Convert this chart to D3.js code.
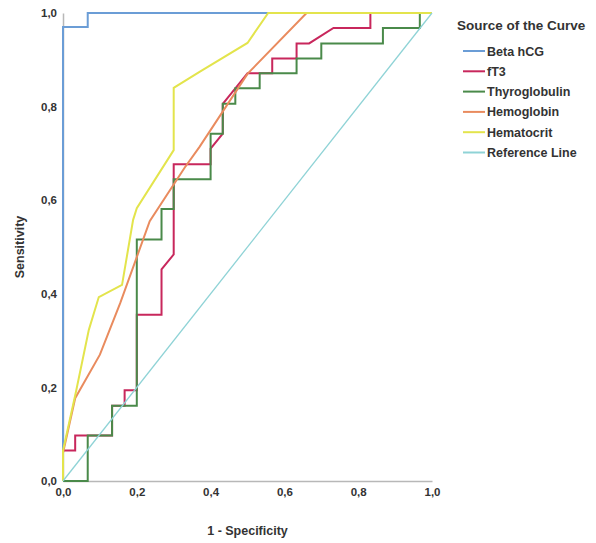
<!DOCTYPE html>
<html>
<head>
<meta charset="utf-8">
<script src="https://cdn.jsdelivr.net/npm/d3@7"></script>
<style>
  body { margin: 0; background: #fff; }
  svg text { font-family: "Liberation Sans", Arial, sans-serif; font-weight: bold; fill: #333; }
</style>
</head>
<body>
<svg id="chart"></svg>
<script>
// ROC data: [1 - specificity, sensitivity]
var betaHCG = [[0,0],[0,0.97],[0.067,0.97],[0.067,1],[1,1]];
var fT3 = [[0,0],[0,0.065],[0.033,0.065],[0.033,0.097],[0.133,0.097],[0.133,0.161],[0.167,0.161],[0.167,0.194],
  [0.2,0.194],[0.2,0.355],[0.267,0.355],[0.267,0.452],[0.3,0.484],[0.3,0.677],[0.4,0.677],[0.4,0.71],
  [0.433,0.742],[0.433,0.806],[0.467,0.839],[0.5,0.871],[0.567,0.871],[0.567,0.903],[0.633,0.903],
  [0.633,0.935],[0.667,0.935],[0.733,0.968],[0.833,0.968],[0.833,1],[1,1]];
var thyroglobulin = [[0,0],[0.067,0],[0.067,0.097],[0.133,0.097],[0.133,0.161],[0.2,0.161],[0.2,0.516],
  [0.267,0.516],[0.267,0.581],[0.3,0.581],[0.3,0.645],[0.4,0.645],[0.4,0.742],[0.433,0.742],[0.433,0.806],
  [0.467,0.806],[0.467,0.839],[0.533,0.839],[0.533,0.871],[0.633,0.871],[0.633,0.903],[0.7,0.903],
  [0.7,0.935],[0.867,0.935],[0.867,0.968],[0.967,0.968],[0.967,1],[1,1]];
var hemoglobin = [[0,0],[0,0.06],[0.033,0.177],[0.1,0.27],[0.155,0.38],[0.235,0.555],[0.33,0.67],
  [0.37,0.714],[0.5,0.87],[0.66,1],[1,1]];
var hematocrit = [[0,0],[0,0.065],[0.035,0.19],[0.07,0.323],[0.097,0.393],[0.16,0.419],[0.19,0.558],
  [0.2,0.583],[0.3,0.707],[0.3,0.84],[0.37,0.874],[0.5,0.936],[0.556,1],[1,1]];
var referenceLine = [[0,0],[1,1]];

var seriesNames = ["Beta hCG", "fT3", "Thyroglobulin", "Hemoglobin", "Hematocrit", "Reference Line"];
var seriesData = [betaHCG, fT3, thyroglobulin, hemoglobin, hematocrit, referenceLine];
var seriesColors = ["#6b9dd6", "#c8275c", "#4a8a4a", "#e98b5e", "#e3e44c", "#8fd3d6"];
var axisTicks = [0, 0.2, 0.4, 0.6, 0.8, 1.0];

var width = 596, height = 543;
var plot = {left: 63, top: 13, width: 369, height: 468};

var svg = d3.select("#chart")
  .attr("width", width)
  .attr("height", height);

var x = d3.scaleLinear().domain([0, 1]).range([plot.left, plot.left + plot.width]);
var y = d3.scaleLinear().domain([0, 1]).range([plot.top + plot.height, plot.top]);
var fmt = function(d) { return d3.format(".1f")(d).replace(".", ","); };

// axes, no tick marks
svg.append("g")
  .attr("transform", `translate(0, ${plot.top + plot.height})`)
  .call(d3.axisBottom(x).tickValues(axisTicks).tickFormat(fmt).tickSize(0).tickPadding(7));
svg.append("g")
  .attr("transform", `translate(${plot.left}, 0)`)
  .call(d3.axisLeft(y).tickValues(axisTicks).tickFormat(fmt).tickSize(0).tickPadding(6));

svg.selectAll(".domain").attr("stroke", "#b8b8b8").attr("stroke-width", 1.5);
svg.selectAll(".tick text").style("font-size", "11.5px").attr("fill", "#333");

// curves
var line = d3.line()
  .x(function(d) { return x(d[0]); })
  .y(function(d) { return y(d[1]); });

svg.append("g").selectAll("path")
  .data(seriesData)
  .enter().append("path")
    .attr("d", line)
    .attr("fill", "none")
    .attr("stroke", function(d, i) { return seriesColors[i]; })
    .attr("stroke-width", function(d, i) { return i === 5 ? 1.3 : 2; });

// axis titles
svg.append("text")
  .attr("x", x(0.5))
  .attr("y", 535)
  .attr("text-anchor", "middle")
  .style("font-size", "12.5px")
  .text("1 - Specificity");

svg.append("text")
  .attr("transform", `translate(24, ${y(0.5)}) rotate(-90)`)
  .attr("text-anchor", "middle")
  .style("font-size", "12.5px")
  .text("Sensitivity");

// legend
var legend = svg.append("g").attr("transform", "translate(457, 0)");
legend.append("text")
  .attr("x", 0).attr("y", 30)
  .style("font-size", "13.5px")
  .text("Source of the Curve");

var items = legend.selectAll(".item")
  .data(seriesNames)
  .enter().append("g")
    .attr("class", "item")
    .attr("transform", function(d, i) { return `translate(0, ${51 + i * 20.3})`; });

items.append("line")
  .attr("x1", 6).attr("x2", 28)
  .attr("stroke", function(d, i) { return seriesColors[i]; })
  .attr("stroke-width", 2);

items.append("text")
  .attr("x", 30).attr("y", 4.5)
  .style("font-size", "12.5px")
  .text(function(d) { return d; });
</script>
</body>
</html>
